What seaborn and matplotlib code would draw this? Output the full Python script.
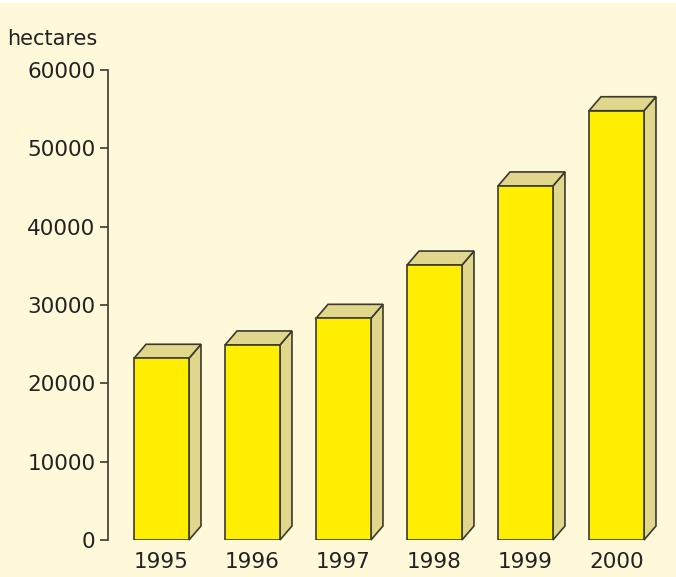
import matplotlib
matplotlib.use("Agg")
import matplotlib.pyplot as plt
from matplotlib.patches import Polygon, Rectangle
import seaborn as sns
import pandas as pd

years = ["1995", "1996", "1997", "1998", "1999", "2000"]
hectares = [23200, 24900, 28300, 35100, 45200, 54800]
yticks = [0, 10000, 20000, 30000, 40000, 50000, 60000]

BG = "#FFF9DA"
FRONT = "#FFEE00"
SIDE = "#E0D68C"
EDGE = "#3A3A30"

sns.set_theme(style="white")
plt.rcParams["font.family"] = ["DejaVu Sans"]

W, H = 676, 577
fig = plt.figure(figsize=(W / 100, H / 100), dpi=100, facecolor=BG)
fig.patches.append(Rectangle((0, 1 - 3 / H), 1, 3 / H, transform=fig.transFigure,
                             facecolor="white", edgecolor="none", zorder=0))
ax = fig.add_axes([108 / W, (H - 540) / H, (W - 108) / W, 470 / H])
ax.set_facecolor(BG)

df = pd.DataFrame({"year": years, "hectares": hectares})
sns.barplot(data=df, x="year", y="hectares", color=FRONT, saturation=1,
            width=0.604, edgecolor=EDGE, linewidth=1.2, ax=ax, zorder=3)

ax.set_xlim(-0.588, 5.654)
ax.set_ylim(0, 60000)

# 3D depth (in pixels converted to data units)
px_x = (5.654 + 0.588) / (W - 108)
px_y = 60000 / 470
dx = 12 * px_x
dy = 14 * px_y
for p in ax.patches[:len(years)]:
    x0 = p.get_x()
    x1 = x0 + p.get_width()
    top = p.get_height()
    side = Polygon([(x1, 0), (x1 + dx, dy), (x1 + dx, top + dy), (x1, top)],
                   closed=True, facecolor=SIDE, edgecolor=EDGE, linewidth=1.2,
                   zorder=2, clip_on=False)
    topf = Polygon([(x0, top), (x0 + dx, top + dy), (x1 + dx, top + dy), (x1, top)],
                   closed=True, facecolor=SIDE, edgecolor=EDGE, linewidth=1.2,
                   zorder=2, clip_on=False)
    ax.add_patch(side)
    ax.add_patch(topf)

for s in ["top", "right", "bottom"]:
    ax.spines[s].set_visible(False)
ax.spines["left"].set_color(EDGE)
ax.spines["left"].set_linewidth(1.2)

ax.set_yticks(yticks)
ax.set_yticklabels([str(v) for v in yticks])
ax.tick_params(axis="y", left=True, length=6, width=1.2, color=EDGE,
               labelsize=15.5, labelcolor="#222222", pad=3)
ax.tick_params(axis="x", bottom=False, labelsize=15.5, labelcolor="#222222", pad=3)
ax.set_xlabel("")
ax.set_ylabel("")

fig.text(97 / W, 1 - 45 / H, "hectares", ha="right", va="baseline",
         fontsize=15, color="#222222")

fig.savefig("out.png", dpi=100, facecolor=BG)
